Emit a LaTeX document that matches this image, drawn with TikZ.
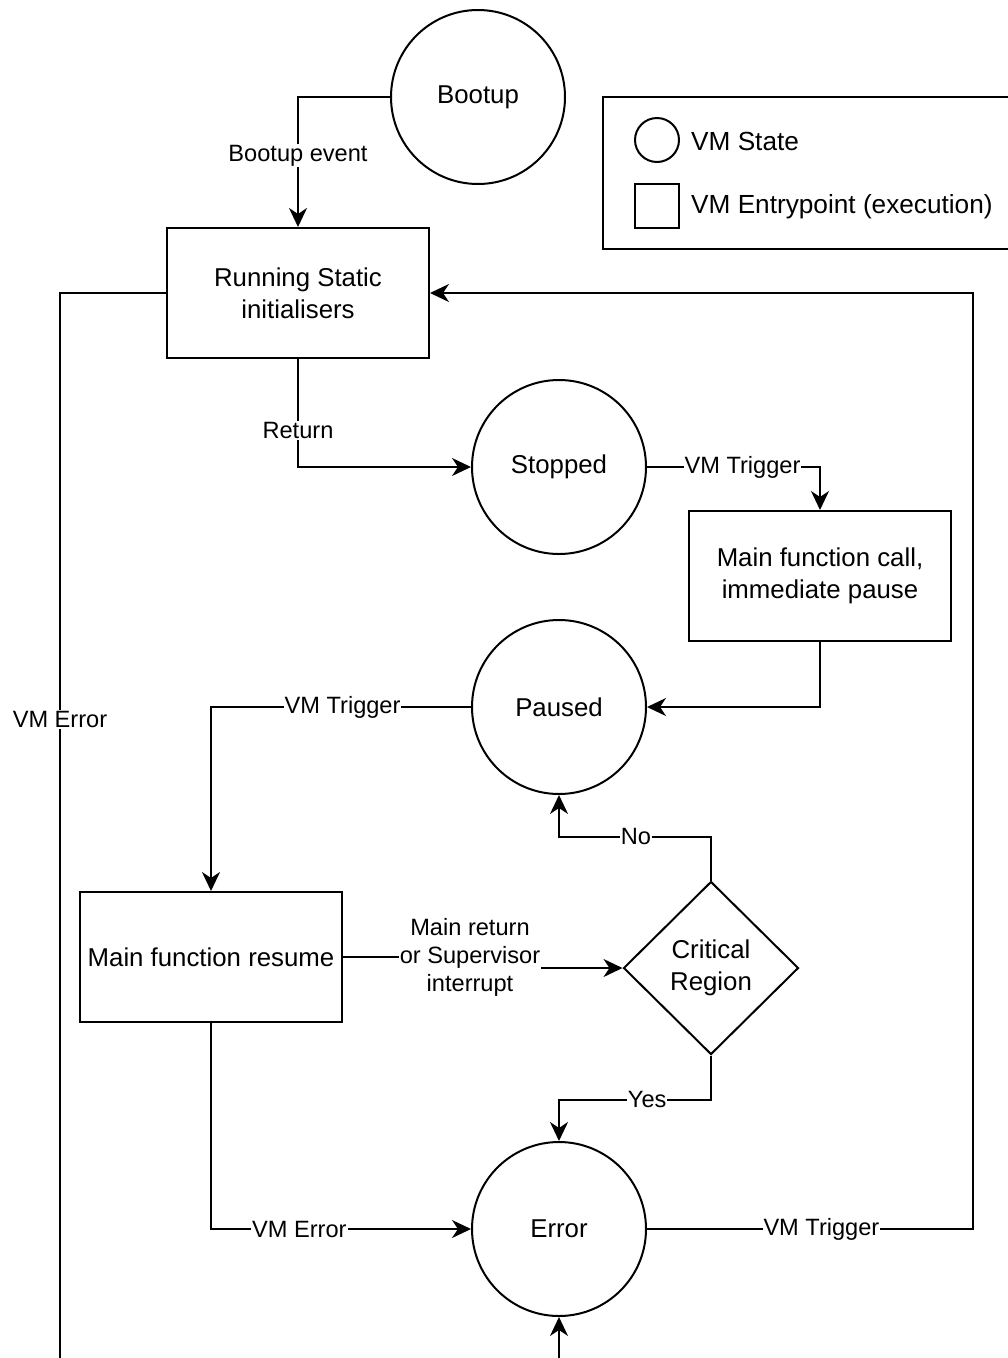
\documentclass[tikz,border=0pt]{standalone}
\usepackage{fontspec}
\setmainfont{Liberation Sans}
\usetikzlibrary{shapes.geometric,arrows.meta}
\begin{document}
\begin{tikzpicture}[x=1pt,y=-1pt,
  state/.style={draw,circle,minimum size=174pt,inner sep=0pt,line width=2pt,font=\fontsize{25.8}{32}\selectfont},
  entry/.style={draw,rectangle,minimum width=262pt,minimum height=130pt,inner sep=0pt,align=center,line width=2pt,font=\fontsize{25.8}{32}\selectfont},
  decide/.style={draw,diamond,minimum width=175pt,minimum height=173pt,inner sep=0pt,align=center,line width=2pt,font=\fontsize{25.8}{32}\selectfont},
  lbl/.style={fill=white,inner sep=1pt,align=center,font=\fontsize{23.6}{28}\selectfont},
  arr/.style={-{Stealth[length=19pt,width=18pt,inset=6pt]},line width=2pt},
  wire/.style={line width=2pt},
  legtext/.style={anchor=west,inner sep=0pt,font=\fontsize{26.2}{32}\selectfont}]
\useasboundingbox (0,0) rectangle (1008,1358);
\fill[white] (0,0) rectangle (1008,1358);
\clip (0,0) rectangle (1008,1358);

% nodes
\node[state] (boot) at (478,97) {Bootup};
\node[entry] (rsi) at (298,293) {Running Static\\initialisers};
\node[state] (stopped) at (559,467) {Stopped};
\node[entry] (call) at (820,576) {Main function call,\\immediate pause};
\node[state] (paused) at (559,707) {Paused};
\node[entry] (resume) at (211,957) {Main function resume};
\node[decide] (crit) at (711,968) {Critical\\Region};
\node[state] (error) at (559,1229) {Error};

% legend
\draw[wire] (603,97) rectangle (1030,249);
\node[draw,circle,minimum size=44pt,inner sep=0pt,line width=2pt] (legc) at (657,140) {};
\node[draw,rectangle,minimum size=44pt,inner sep=0pt,line width=2pt] (legs) at (657,206) {};
\node[legtext] (legct) at (691,141) {VM State};
\node[legtext] (legst) at (691,207) {VM Entrypoint (execution)};

% helper coordinates
\coordinate (jog) at (470,957);
\coordinate (rr) at (973,0);
\coordinate (lb) at (60,1375);
\coordinate (bt) at (559,1375);

% connectors
\draw[arr] (boot.west) -| node[lbl,pos=0.725]{Bootup event} (rsi.north);
\draw[arr] (rsi.south) |- node[lbl,pos=0.33]{Return} (stopped.west);
\draw[arr] (stopped.east) -| node[lbl,pos=0.276]{VM Trigger} (call.north);
\draw[arr] (call.south) |- (paused.east);
\draw[arr] (paused.west) -| node[lbl,pos=0.247]{VM Trigger} (resume.north);
\draw[arr] (resume.east) -- (jog) |- (crit.west);
\node[lbl] (jl) at (jog) {Main return\\or Supervisor\\interrupt};
\draw[arr] (crit.north) -- ++(0,-44) -| node[lbl,pos=0.247]{No} (paused.south);
\draw[arr] (crit.south) -- ++(0,44) -| node[lbl,pos=0.21]{Yes} (error.north);
\draw[arr] (resume.south) |- node[lbl,pos=0.67]{VM Error} (error.west);
\draw[arr] (error.east) -- node[lbl,pos=0.535]{VM Trigger} (error.east -| rr) |- (rsi.east);
\draw[wire] (rsi.west) -| node[lbl,pos=0.697]{VM Error} (lb);
\draw[arr] (bt) -- (error.south);
\end{tikzpicture}
\end{document}
